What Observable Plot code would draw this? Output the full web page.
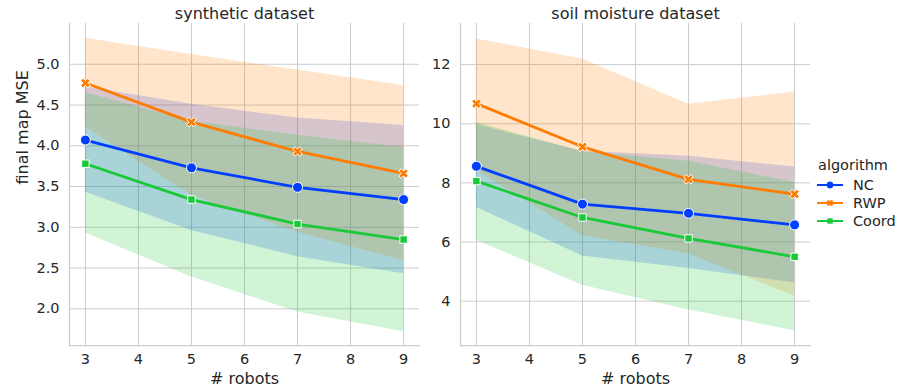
<!DOCTYPE html>
<html>
<head>
<meta charset="utf-8">
<script src="https://cdn.jsdelivr.net/npm/d3@7"></script>
<script src="https://cdn.jsdelivr.net/npm/@observablehq/plot@0.6"></script>
<style>
  html, body { margin: 0; padding: 0; background: white; }
  #wrap { position: relative; width: 897px; height: 392px; overflow: hidden; font-family: "DejaVu Sans", sans-serif; color: #262626; }
  .panel { position: absolute; top: 0; }
  #legend { position: absolute; left: 817px; top: 155px; font-size: 14.5px; }
  #legend .title { margin-left: 1px; height: 21px; line-height: 21px; }
  #legend .row { display: flex; align-items: center; height: 18px; }
  #legend .row span { margin-left: 9px; }
</style>
</head>
<body>
<div id="wrap">
  <div id="p1" class="panel" style="left:0px"></div>
  <div id="p2" class="panel" style="left:420px"></div>
  <div id="legend"></div>
</div>
<script>
// ---------- data ----------
const robots = [3, 5, 7, 9];
const algorithms = ["NC", "RWP", "Coord"];
const colors = ["#023eff", "#ff7c00", "#1ac938"];

// synthetic dataset
const synNC      = [4.07, 3.73, 3.49, 3.34];
const synNCLow   = [3.43, 2.96, 2.64, 2.43];
const synNCHigh  = [4.72, 4.51, 4.34, 4.25];
const synRWP     = [4.77, 4.29, 3.93, 3.66];
const synRWPLow  = [4.23, 3.39, 2.94, 2.59];
const synRWPHigh = [5.32, 5.12, 4.93, 4.74];
const synCoord     = [3.78, 3.34, 3.04, 2.85];
const synCoordLow  = [2.93, 2.39, 1.96, 1.72];
const synCoordHigh = [4.65, 4.30, 4.13, 3.98];

// soil moisture dataset
const soilNC      = [8.56, 7.28, 6.97, 6.58];
const soilNCLow   = [7.17, 5.53, 5.10, 4.62];
const soilNCHigh  = [9.97, 9.07, 8.90, 8.54];
const soilRWP     = [10.68, 9.22, 8.12, 7.62];
const soilRWPLow  = [8.43, 6.21, 5.60, 4.17];
const soilRWPHigh = [12.87, 12.19, 10.66, 11.07];
const soilCoord     = [8.06, 6.83, 6.12, 5.50];
const soilCoordLow  = [6.06, 4.54, 3.70, 3.00];
const soilCoordHigh = [10.05, 9.05, 8.73, 8.01];

const xTicks = [3, 4, 5, 6, 7, 8, 9];
const synYTicks = [2.0, 2.5, 3.0, 3.5, 4.0, 4.5, 5.0];
const soilYTicks = [4, 6, 8, 10, 12];

// ---------- build tidy rows ----------
function rows(series) {
  const out = [];
  series.forEach(([algo, mean, lo, hi]) => {
    robots.forEach((r, i) => out.push({robots: r, algo, mean: mean[i], lo: lo[i], hi: hi[i]}));
  });
  return out;
}
const synData = rows([
  ["NC", synNC, synNCLow, synNCHigh],
  ["RWP", synRWP, synRWPLow, synRWPHigh],
  ["Coord", synCoord, synCoordLow, synCoordHigh]
]);
const soilData = rows([
  ["NC", soilNC, soilNCLow, soilNCHigh],
  ["RWP", soilRWP, soilRWPLow, soilRWPHigh],
  ["Coord", soilCoord, soilCoordLow, soilCoordHigh]
]);

// filled "X" marker like matplotlib's 'X'
const xSymbol = {
  draw(context, size) {
    const a = Math.sqrt(size / Math.PI) * 1.05;
    const t = a * 0.34;
    const pts = [[t,a],[t,t],[a,t],[a,-t],[t,-t],[t,-a],[-t,-a],[-t,-t],[-a,-t],[-a,t],[-t,t],[-t,a]];
    const c = Math.SQRT1_2;
    pts.forEach(([x, y], i) => {
      const rx = (x - y) * c, ry = (x + y) * c;
      if (i === 0) context.moveTo(rx, ry); else context.lineTo(rx, ry);
    });
    context.closePath();
  }
};
const symbolOf = {NC: "circle", RWP: xSymbol, Coord: "square"};
const radiusOf = {NC: 5.0, RWP: 4.8, Coord: 4.2};

function panel(data, {title, yDomain, yTicks, yFormat, width, marginLeft, marginRight, yLabel}) {
  const marks = [
    Plot.gridX(xTicks, {stroke: "#cccccc", strokeOpacity: 1, strokeWidth: 1}),
    Plot.gridY(yTicks, {stroke: "#cccccc", strokeOpacity: 1, strokeWidth: 1}),
    Plot.axisX(xTicks, {tickSize: 0, tickPadding: 8, fontSize: 14.5, label: null, fill: "#262626"}),
    Plot.axisY(yTicks, {tickSize: 0, tickPadding: 10, fontSize: 14.5, label: null, tickFormat: yFormat, fill: "#262626"}),
    Plot.frame({anchor: "left", stroke: "#cccccc", strokeWidth: 1.25, strokeOpacity: 1}),
    Plot.frame({anchor: "bottom", stroke: "#cccccc", strokeWidth: 1.25, strokeOpacity: 1}),
    Plot.areaY(data, {x: "robots", y1: "lo", y2: "hi", z: "algo", fill: "algo", fillOpacity: 0.2}),
    Plot.text([title], {frameAnchor: "top", lineAnchor: "bottom", dy: -5, fontSize: 16, fill: "#262626"}),
    Plot.text(["# robots"], {frameAnchor: "bottom", lineAnchor: "top", dy: 27, fontSize: 16, fill: "#262626"})
  ];
  if (yLabel) marks.push(Plot.text([yLabel], {frameAnchor: "left", rotate: -90, dx: -47, fontSize: 16, fill: "#262626"}));
  algorithms.forEach(a => {
    const d = data.filter(r => r.algo === a);
    marks.push(Plot.line(d, {x: "robots", y: "mean", stroke: "algo", strokeWidth: 2.8}));
    marks.push(Plot.dot(d, {x: "robots", y: "mean", fill: "algo", stroke: "white", strokeWidth: 1, r: radiusOf[a], symbol: () => symbolOf[a]}));
  });
  return Plot.plot({
    width, height: 392,
    marginLeft, marginRight, marginTop: 23, marginBottom: 47,
    style: {fontFamily: "DejaVu Sans", fontSize: "14.5px", color: "#262626", background: "transparent", overflow: "visible"},
    x: {domain: [2.7, 9.3], axis: null},
    y: {domain: yDomain, axis: null},
    color: {domain: algorithms, range: colors},
    symbol: {type: "identity"},
    marks
  });
}

document.getElementById("p1").appendChild(panel(synData, {
  title: "synthetic dataset", yDomain: [1.55, 5.50], yTicks: synYTicks, yFormat: d3.format(".1f"),
  width: 440, marginLeft: 69, marginRight: 21, yLabel: "final map MSE"
}));
document.getElementById("p2").appendChild(panel(soilData, {
  title: "soil moisture dataset", yDomain: [2.50, 13.39], yTicks: soilYTicks, yFormat: d3.format("d"),
  width: 400, marginLeft: 40, marginRight: 10
}));

// ---------- legend ----------
const legend = d3.select("#legend");
legend.append("div").attr("class", "title").text("algorithm");
algorithms.forEach((a, i) => {
  const row = legend.append("div").attr("class", "row");
  const svg = row.append("svg").attr("width", 27).attr("height", 12);
  svg.append("line").attr("x1", 0).attr("x2", 26).attr("y1", 6).attr("y2", 6)
    .attr("stroke", colors[i]).attr("stroke-width", 2);
  const path = d3.path();
  const s = a === "NC" ? d3.symbolCircle : a === "RWP" ? xSymbol : d3.symbolSquare;
  s.draw(path, a === "NC" ? 32 : a === "RWP" ? 30 : 24);
  svg.append("path").attr("d", path.toString()).attr("transform", "translate(13,6)")
    .attr("fill", colors[i]).attr("stroke", colors[i]).attr("stroke-width", 0.5);
  row.append("span").text(a);
});
</script>
</body>
</html>
